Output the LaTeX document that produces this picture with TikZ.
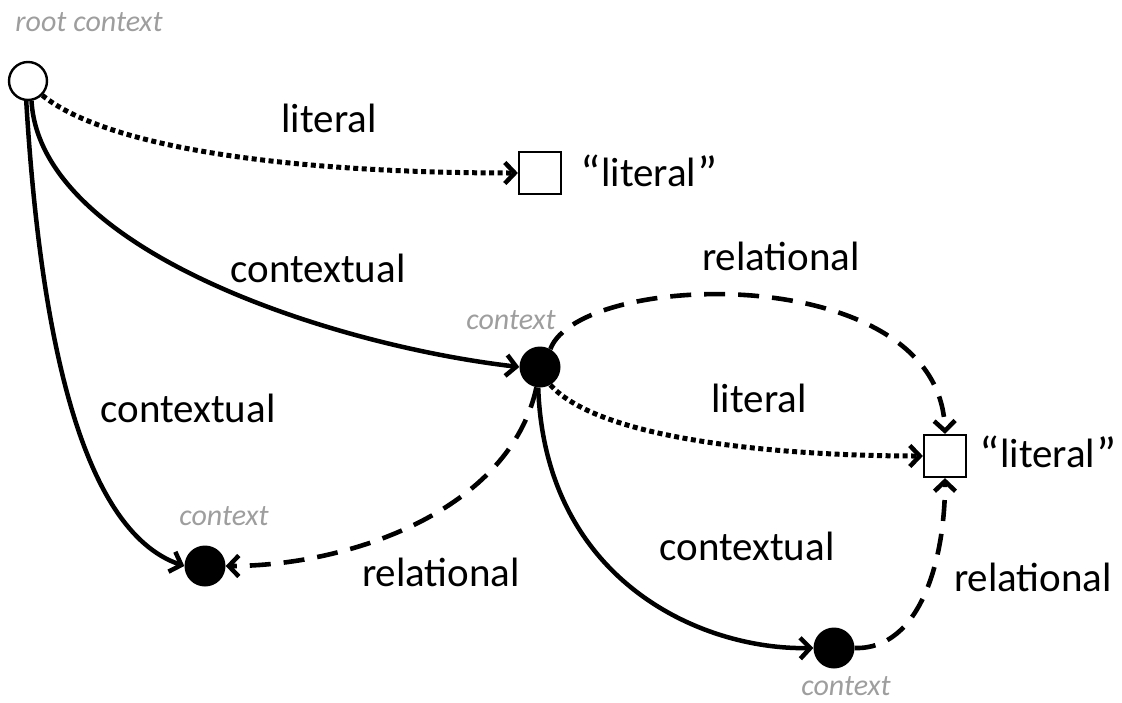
\documentclass[tikz,border=0pt]{standalone}
\usepackage{fontspec}
\setmainfont{Carlito}
\usetikzlibrary{arrows.meta}
\newcommand{\bigq}[1]{\raisebox{-3pt}{\fontsize{48}{56}\selectfont #1}}
\begin{document}
\begin{tikzpicture}[x=1pt,y=-1pt,
  lbl/.style={font=\fontsize{41}{49}\selectfont, inner sep=0pt},
  ctxlbl/.style={font=\fontsize{30}{36}\selectfont\itshape, text=black!38, inner sep=0pt},
  rootnode/.style={circle, draw, line width=2.4pt, fill=white, minimum size=38pt, inner sep=0pt},
  dotnode/.style={circle, fill=black, minimum size=41pt, inner sep=0pt},
  sqnode/.style={rectangle, draw, line width=2.2pt, fill=white, minimum size=42pt, inner sep=0pt},
  arr/.style={-{Straight Barb[length=10pt,width=21pt,line width=4.5pt]}},
  solidedge/.style={line width=4.5pt, arr},
  dottededge/.style={line width=5pt, dash pattern=on 5pt off 3.5pt, arr},
  dashededge/.style={line width=4.6pt, dash pattern=on 21pt off 13pt, arr}
]
\useasboundingbox (0,0) rectangle (1122,702);

\node[rootnode] (root) at (28,81) {};
\node[sqnode] (sq1) at (540,173) {};
\node[dotnode] (c1) at (540,367) {};
\node[sqnode] (sq2) at (945,456) {};
\node[dotnode] (c2) at (205,566) {};
\node[dotnode] (c3) at (834,648) {};

\node[ctxlbl] (rl) at (89,22) {root context};
\node[ctxlbl] (c1l) at (511,320) {context};
\node[ctxlbl] (c2l) at (224,516) {context};
\node[ctxlbl] (c3l) at (846,686) {context};
\node[lbl, anchor=west] (sq1l) at (580,172) {\bigq{“}\kern1pt literal\kern1pt\bigq{”}};
\node[lbl, anchor=west] (sq2l) at (979,453) {\bigq{“}\kern1pt literal\kern1pt\bigq{”}};

\node[lbl] (e1) at (329,118) {literal};
\node[lbl] (e2) at (318,268) {contextual};
\node[lbl] (e3) at (188,408) {contextual};
\node[lbl] (e4) at (759,398) {literal};
\node[lbl] (e5) at (781,256) {relational};
\node[lbl] (e6) at (441,572) {relational};
\node[lbl] (e7) at (747,546) {contextual};
\node[lbl] (e8) at (1033,577) {relational};

\draw[dottededge] (root.-45) .. controls (110,150) and (300,173) .. (sq1.west);
\draw[solidedge] (root.-80) .. controls (40,250) and (330,345) .. (c1.west);
\draw[solidedge] (root.-95) .. controls (40,330) and (80,530) .. (c2.west);
\draw[dottededge] (c1.-60) .. controls (600,440) and (780,456) .. (sq2.west);
\draw[dashededge] (c1.60) .. controls (580,270) and (940,260) .. (sq2.north);
\draw[dashededge] (c1.-100) .. controls (510,510) and (350,566) .. (c2.east);
\draw[solidedge] (c1.-95) .. controls (545,580) and (700,650) .. (c3.west);
\draw[dashededge] (c3.east) .. controls (920,650) and (945,560) .. (sq2.south);
\end{tikzpicture}
\end{document}
